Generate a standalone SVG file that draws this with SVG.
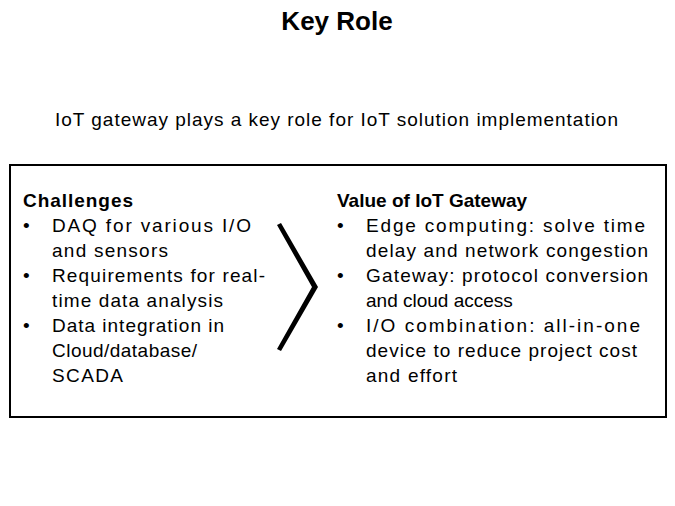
<svg xmlns="http://www.w3.org/2000/svg" width="675" height="506" viewBox="0 0 675 506">
<style>
text{font-family:"Liberation Sans",Arial,sans-serif;fill:#000}
.t{font-size:19px}
.b{font-weight:bold}
</style>
<rect width="675" height="506" fill="#fff"/>
<text x="337" y="30" text-anchor="middle" class="b" font-size="26">Key Role</text>
<text x="55" y="126" class="t" textLength="563">IoT gateway plays a key role for IoT solution implementation</text>
<g id="box"><rect x="10" y="165" width="656" height="252" fill="none" stroke="#000" stroke-width="2"/></g>
<g id="left">
<text x="23" y="207" class="t b" textLength="110">Challenges</text>
<text x="23" y="232" class="t">•</text><text x="52" y="232" class="t" textLength="199">DAQ for various I/O</text>
<text x="52" y="257" class="t" textLength="116">and sensors</text>
<text x="23" y="282" class="t">•</text><text x="52" y="282" class="t" textLength="213">Requirements  for real-</text>
<text x="52" y="307" class="t" textLength="171">time data analysis</text>
<text x="23" y="332" class="t">•</text><text x="52" y="332" class="t" textLength="172">Data integration in</text>
<text x="52" y="357" class="t" textLength="145">Cloud/database/</text>
<text x="52" y="382" class="t" textLength="71">SCADA</text>
</g>
<g id="chevron"><polygon points="277,225 281,223 318,287 281,351 277,349 312,287" fill="#000"/></g>
<g id="right">
<text x="337" y="207" class="t b">Value of IoT Gateway</text>
<text x="337" y="232" class="t">•</text><text x="366" y="232" class="t" textLength="279">Edge computing:  solve time</text>
<text x="366" y="257" class="t" textLength="282">delay and network congestion</text>
<text x="337" y="282" class="t">•</text><text x="366" y="282" class="t" textLength="282">Gateway: protocol conversion</text>
<text x="366" y="307" class="t">and cloud access</text>
<text x="337" y="332" class="t">•</text><text x="366" y="332" class="t" textLength="274">I/O combination: all-in-one</text>
<text x="366" y="357" class="t" textLength="271">device to reduce project cost</text>
<text x="366" y="382" class="t" textLength="91">and effort</text>
</g>
</svg>
